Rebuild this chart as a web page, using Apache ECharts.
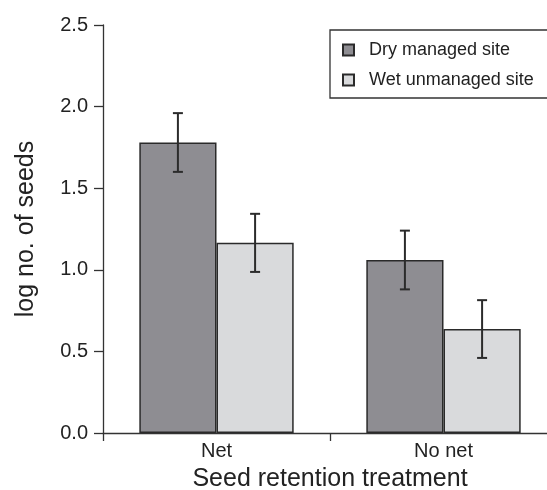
<!DOCTYPE html>
<html>
<head>
<meta charset="utf-8">
<script src="https://cdn.jsdelivr.net/npm/echarts@6/dist/echarts.min.js"></script>
<style>
html,body{margin:0;padding:0;background:#fff;}
#chart{width:547px;height:490px;}
</style>
</head>
<body>
<div id="chart"></div>
<script>
var categories = ['Net', 'No net'];
var seriesNames = ['Dry managed site', 'Wet unmanaged site'];
var dryValues = [1.78, 1.06];
var wetValues = [1.165, 0.637];
var dryErrors = [0.18, 0.18];
var wetErrors = [0.178, 0.177];

var FONT = 'Liberation Sans';
var chart = echarts.init(document.getElementById('chart'));

function errorSeries(values, errors, side) {
  var data = values.map(function (v, i) { return [i, v - errors[i], v + errors[i]]; });
  return {
    type: 'custom',
    silent: true,
    z: 10,
    data: data,
    renderItem: function (params, api) {
      var band = api.size([1, 0])[0];
      var off = side * band * 0.17;
      var lo = api.coord([api.value(0), api.value(1)]);
      var hi = api.coord([api.value(0), api.value(2)]);
      var x = lo[0] + off;
      var cap = 5;
      var st = { stroke: '#2b2b2b', lineWidth: 2 };
      return {
        type: 'group',
        children: [
          { type: 'line', shape: { x1: x, y1: lo[1], x2: x, y2: hi[1] }, style: st },
          { type: 'line', shape: { x1: x - cap, y1: hi[1], x2: x + cap, y2: hi[1] }, style: st },
          { type: 'line', shape: { x1: x - cap, y1: lo[1], x2: x + cap, y2: lo[1] }, style: st }
        ]
      };
    }
  };
}

var option = {
  animation: false,
  backgroundColor: '#ffffff',
  textStyle: { fontFamily: FONT },
  grid: { left: 103, top: 25, width: 454, height: 408, containLabel: false, outerBoundsMode: 'none' },
  legend: {
    data: seriesNames,
    orient: 'vertical',
    left: 330,
    top: 30,
    itemWidth: 11,
    itemHeight: 11,
    itemGap: 12,
    padding: [11, 22, 9, 12],
    borderColor: '#333333',
    borderWidth: 1.3,
    icon: 'rect',
    selectedMode: false,
    textStyle: { fontFamily: FONT, fontSize: 18, color: '#222222', padding: [0, 0, 0, 10] }
  },
  xAxis: {
    type: 'category',
    data: categories,
    name: 'Seed retention treatment',
    nameLocation: 'middle',
    nameGap: 34,
    nameTextStyle: { fontFamily: FONT, fontSize: 25, color: '#222222' },
    axisLine: { lineStyle: { color: '#333333', width: 1.3 } },
    axisTick: { show: true, length: 8, alignWithLabel: false, lineStyle: { color: '#333333', width: 1.3 } },
    axisLabel: { fontFamily: FONT, fontSize: 20, color: '#222222', margin: 8 }
  },
  yAxis: {
    type: 'value',
    min: 0,
    max: 2.5,
    interval: 0.5,
    name: 'log no. of seeds',
    nameLocation: 'middle',
    nameGap: 64,
    nameTextStyle: { fontFamily: FONT, fontSize: 25, color: '#222222' },
    axisLine: { show: true, lineStyle: { color: '#333333', width: 1.3 } },
    axisTick: { show: true, length: 9, lineStyle: { color: '#333333', width: 1.3 } },
    splitLine: { show: false },
    axisLabel: {
      fontFamily: FONT, fontSize: 20, color: '#222222', margin: 15,
      formatter: function (v) { return v.toFixed(1); }
    }
  },
  series: [
    {
      name: seriesNames[0],
      type: 'bar',
      data: dryValues,
      barWidth: '34%',
      barGap: '0%',
      itemStyle: { color: '#8e8d92', borderColor: '#2a2a2a', borderWidth: 1.5 }
    },
    {
      name: seriesNames[1],
      type: 'bar',
      data: wetValues,
      barWidth: '34%',
      barGap: '0%',
      itemStyle: { color: '#d9dadc', borderColor: '#2a2a2a', borderWidth: 1.5 }
    },
    errorSeries(dryValues, dryErrors, -1),
    errorSeries(wetValues, wetErrors, 1)
  ]
};
chart.setOption(option);
</script>
</body>
</html>
